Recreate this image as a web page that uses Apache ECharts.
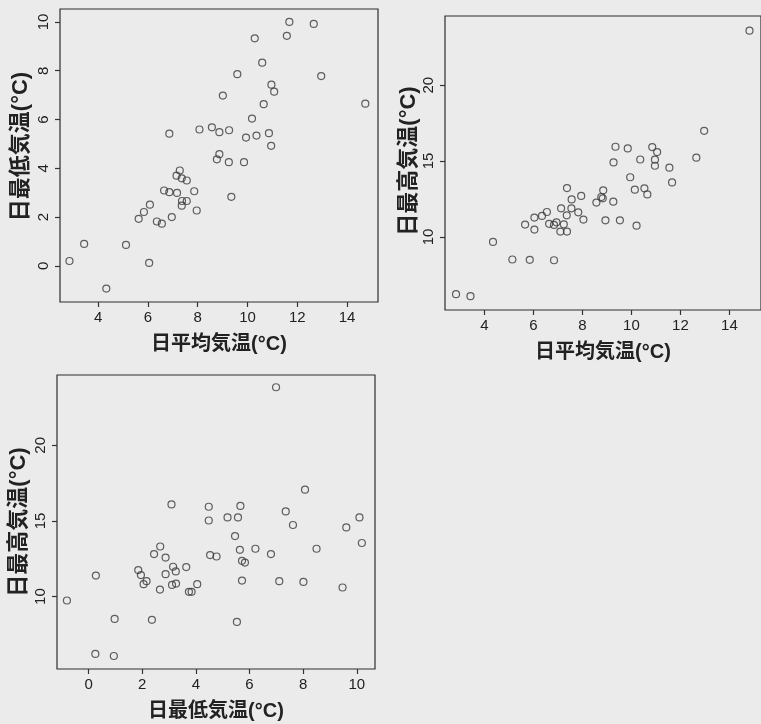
<!DOCTYPE html>
<html>
<head>
<meta charset="utf-8">
<script src="https://cdn.jsdelivr.net/npm/echarts@6/dist/echarts.min.js"></script>
<style>
html,body{margin:0;padding:0;background:#ebebeb;}
#c{width:761px;height:724px;}
</style>
</head>
<body>
<div id="c"></div>
<script>
// Plot 1: daily mean temperature vs daily minimum temperature
const meanTemp1 = [11.68,12.66,10.29,11.58,10.59,9.59,12.96,10.96,11.07,9.01,14.73,10.65,10.18,6.86,8.07,8.57,8.87,9.26,9.94,10.36,10.86,10.95,8.87,8.77,9.25,9.86,7.28,7.15,7.36,7.56,6.65,6.86,7.17,7.86,7.37,7.56,7.36,9.35,7.96,6.08,5.84,5.63,6.36,6.56,6.96,3.44,5.12,2.85,6.05,4.33];
const minTemp1  = [10.0,9.92,9.33,9.43,8.33,7.86,7.78,7.43,7.14,6.98,6.65,6.63,6.04,5.42,5.59,5.68,5.48,5.56,5.26,5.34,5.44,4.92,4.58,4.37,4.25,4.25,3.91,3.70,3.59,3.50,3.09,3.02,2.99,3.06,2.66,2.66,2.47,2.83,2.27,2.51,2.21,1.93,1.82,1.73,2.0,0.90,0.86,0.20,0.12,-0.93];
// Plot 2: daily mean temperature vs daily maximum temperature
const meanTemp2 = [14.82,12.97,9.35,9.85,10.85,11.05,9.27,10.36,10.96,10.96,11.55,12.65,9.95,11.66,10.14,10.53,10.65,7.37,7.56,7.95,8.85,8.77,8.83,8.57,9.26,7.13,7.55,7.83,7.36,8.04,8.94,9.53,10.21,6.55,6.35,6.04,5.66,6.04,6.64,6.84,6.94,7.24,7.10,7.37,4.35,5.14,5.85,6.84,2.84,3.43];
const maxTemp2  = [23.59,16.99,15.94,15.83,15.92,15.59,14.91,15.1,15.09,14.69,14.56,15.22,13.93,13.59,13.11,13.2,12.8,13.22,12.47,12.7,13.07,12.63,12.54,12.26,12.32,11.88,11.88,11.62,11.42,11.14,11.09,11.09,10.74,11.64,11.38,11.27,10.81,10.48,10.86,10.79,10.96,10.83,10.35,10.35,9.67,8.51,8.49,8.46,6.22,6.09];
// Plot 3: daily minimum temperature vs daily maximum temperature
const minTemp3  = [6.99,8.07,3.09,4.48,5.66,4.48,5.18,5.57,7.35,7.62,9.61,10.10,5.46,10.19,2.67,2.44,2.87,4.53,4.77,5.64,6.22,6.80,8.50,5.72,5.83,1.85,1.95,2.16,2.05,3.15,3.25,2.87,3.64,3.26,3.11,2.66,3.74,3.84,4.05,5.72,7.11,8.01,9.47,0.27,-0.81,0.97,2.36,5.53,0.25,0.94];
const maxTemp3  = [23.84,17.07,16.09,15.94,15.99,15.03,15.23,15.23,15.63,14.73,14.57,15.23,14.0,13.54,13.31,12.81,12.58,12.74,12.65,13.09,13.16,12.81,13.16,12.36,12.25,11.75,11.42,11.02,10.82,11.97,11.66,11.48,11.95,10.86,10.77,10.46,10.31,10.31,10.82,11.06,11.02,10.97,10.6,11.39,9.74,8.52,8.46,8.32,6.21,6.07];
// Tick labels
const ticksMean = [4,6,8,10,12,14];
const ticksMin1 = [0,2,4,6,8,10];
const ticksMax = [10,15,20];
const ticksMin3 = [0,2,4,6,8,10];
// Axis titles
const labelMean = '日平均気温(°C)';
const labelMin = '日最低気温(°C)';
const labelMax = '日最高気温(°C)';

const FONT = "'Liberation Sans', 'Noto Sans CJK JP', sans-serif";
const INK = '#222';

function pairs(xs, ys){ return xs.map((x,i)=>[x, ys[i]]); }

function xAxis(idx, min, max, ticks, name){
  return {
    type:'value', gridIndex:idx, min:min, max:max,
    name:name, nameLocation:'middle', nameGap:32,
    nameTextStyle:{fontFamily:FONT, fontSize:20, color:INK, fontWeight:'bold'},
    axisLine:{show:false, onZero:false},
    axisTick:{show:true, length:5, inside:false, customValues:ticks, lineStyle:{color:'#333', width:1.2}},
    axisLabel:{customValues:ticks, fontFamily:FONT, fontSize:15, color:INK, margin:8},
    splitLine:{show:false}
  };
}
function yAxis(idx, min, max, ticks, name, gap, shiftUp){
  return {
    type:'value', gridIndex:idx, min:min, max:max,
    name:name, nameLocation:'middle', nameGap:gap, nameRotate:90,
    nameTextStyle:{fontFamily:FONT, fontSize:22, color:INK, fontWeight:'bold', padding:[0,0,0,shiftUp*2]},
    axisLine:{show:false, onZero:false},
    axisTick:{show:true, length:5, inside:false, customValues:ticks, lineStyle:{color:'#333', width:1.2}},
    axisLabel:{customValues:ticks, rotate:90, fontFamily:FONT, fontSize:15, color:INK, margin:9},
    splitLine:{show:false}
  };
}
function series(idx, data){
  return {
    type:'scatter', xAxisIndex:idx, yAxisIndex:idx, data:data,
    symbol:'circle', symbolSize:7,
    itemStyle:{color:'rgba(0,0,0,0)', borderColor:'#3a3a3a', borderWidth:1.2},
    emphasis:{disabled:true}, silent:true
  };
}

const chart = echarts.init(document.getElementById('c'), null, {renderer:'canvas'});
chart.setOption({
  backgroundColor:'#ebebeb',
  animation:false,
  grid:[
    {left:60, top:9, width:318, height:293, show:true, borderColor:'#2e2e2e', borderWidth:1.2, backgroundColor:'transparent'},
    {left:445, top:16, width:321, height:294, show:true, borderColor:'#2e2e2e', borderWidth:1.2, backgroundColor:'transparent'},
    {left:57, top:375, width:318, height:294, show:true, borderColor:'#2e2e2e', borderWidth:1.2, backgroundColor:'transparent'}
  ],
  xAxis:[
    xAxis(0, 2.47, 15.24, ticksMean, labelMean),
    xAxis(1, 2.39, 15.29, ticksMean, labelMean),
    xAxis(2, -1.18, 10.68, ticksMin3, labelMin)
  ],
  yAxis:[
    yAxis(0, -1.48, 10.53, ticksMin1, labelMin, 28, 9),
    yAxis(1, 5.18, 24.56, ticksMax, labelMax, 23, 2),
    yAxis(2, 5.21, 24.65, ticksMax, labelMax, 27, 0)
  ],
  series:[
    series(0, pairs(meanTemp1, minTemp1)),
    series(1, pairs(meanTemp2, maxTemp2)),
    series(2, pairs(minTemp3, maxTemp3))
  ]
});
</script>
</body>
</html>
